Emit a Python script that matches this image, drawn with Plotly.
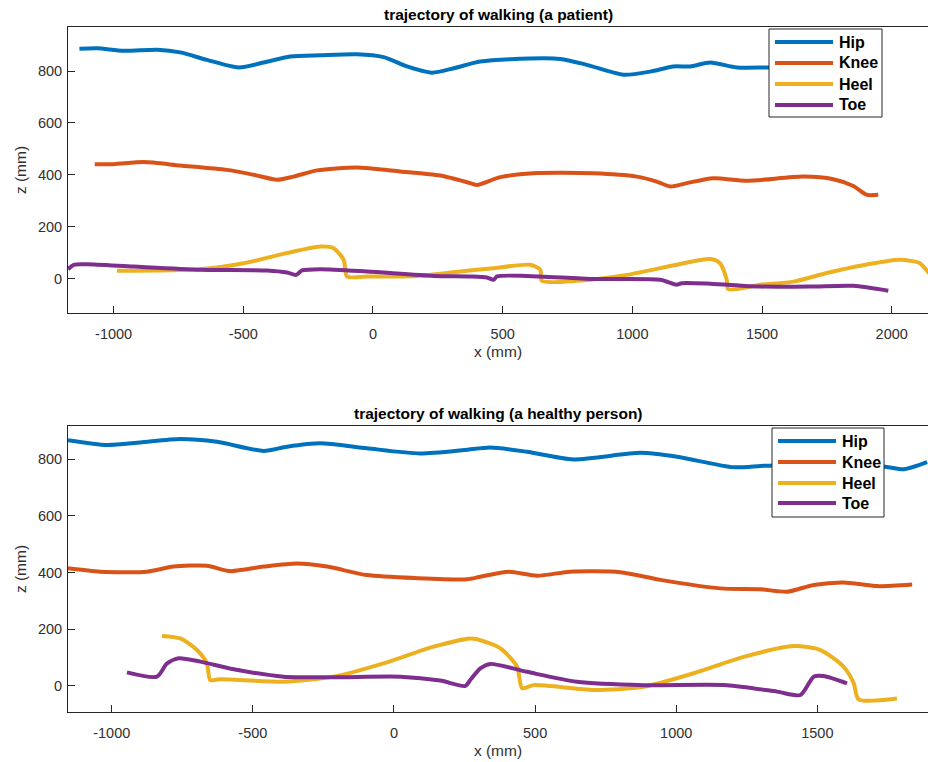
import plotly.graph_objects as go

# ---------------- data: patient (top) ----------------
p_hip_x = [-1132, -1064, -961, -832, -743, -640, -518, -422, -319, -203, -62, 41, 131, 227, 311, 413, 529, 722, 825, 966, 1069, 1158, 1223, 1300, 1403, 1525, 1700, 1850, 1950]
p_hip_z = [886, 888, 878, 882, 872, 843, 814, 833, 856, 861, 865, 854, 818, 794, 811, 837, 846, 847, 824, 786, 798, 818, 818, 833, 814, 814, 815, 812, 810]

p_knee_x = [-1073, -1000, -884, -743, -563, -460, -370, -306, -216, -62, 105, 259, 375, 401, 491, 619, 850, 1017, 1094, 1146, 1210, 1312, 1441, 1659, 1775, 1852, 1904, 1948]
p_knee_z = [441, 441, 449, 436, 419, 400, 381, 393, 417, 428, 413, 397, 368, 361, 391, 406, 406, 393, 374, 355, 368, 387, 377, 393, 383, 357, 323, 323]

p_heel_x = [-987, -666, -499, -345, -203, -152, -113, -100, -23, 170, 336, 465, 606, 645, 651, 786, 979, 1171, 1300, 1338, 1364, 1370, 1493, 1621, 1750, 1878, 2032, 2109, 2140, 2170]
p_heel_z = [30, 36, 59, 95, 123, 117, 72, 8, 8, 10, 27, 40, 53, 34, -9, -9, 14, 53, 75, 59, -5, -41, -24, -12, 21, 49, 72, 59, 25, -10]

p_toe_x = [-1176, -1154, -1102, -923, -666, -408, -331, -296, -274, -203, -23, 234, 375, 439, 465, 478, 593, 850, 1107, 1171, 1191, 1300, 1493, 1686, 1852, 1987]
p_toe_z = [36, 53, 55, 46, 34, 31, 23, 14, 31, 36, 27, 10, 8, 4, -5, 8, 10, -2, -5, -24, -18, -20, -31, -31, -28, -47]

# ---------------- data: healthy person (bottom) ----------------
h_hip_x = [-1155, -1017, -899, -757, -627, -462, -379, -261, -96, 93, 250, 341, 471, 636, 873, 1003, 1203, 1298, 1339, 1450, 1600, 1741, 1806, 1889]
h_hip_z = [868, 851, 860, 872, 862, 830, 845, 857, 839, 821, 833, 842, 827, 800, 823, 809, 772, 777, 778, 780, 776, 774, 765, 790]

h_knee_x = [-1155, -1041, -875, -781, -663, -580, -462, -344, -237, -96, 82, 259, 306, 406, 507, 625, 802, 944, 1156, 1298, 1393, 1487, 1593, 1712, 1836]
h_knee_z = [415, 403, 403, 421, 424, 405, 421, 432, 421, 391, 380, 376, 385, 403, 389, 403, 401, 374, 344, 341, 332, 356, 365, 352, 358]

h_heel_x = [-822, -757, -698, -663, -651, -616, -391, -214, -37, 140, 270, 294, 377, 436, 454, 495, 707, 884, 1062, 1239, 1416, 1511, 1593, 1629, 1646, 1782]
h_heel_z = [176, 167, 126, 79, 20, 23, 14, 32, 79, 138, 167, 164, 132, 67, -9, 2, -15, -4, 44, 102, 140, 126, 67, 8, -48, -45]

h_toe_x = [-946, -840, -804, -763, -686, -568, -391, -214, 22, 164, 253, 270, 306, 341, 471, 648, 884, 1180, 1357, 1440, 1487, 1522, 1605]
h_toe_z = [47, 32, 79, 97, 85, 58, 32, 30, 32, 18, -1, 20, 61, 77, 49, 14, 2, 2, -21, -33, 32, 34, 8]

names = ["Hip", "Knee", "Heel", "Toe"]
colors = ["#0072BD", "#D95319", "#EDB120", "#7E2F8E"]
x_ticks = [-1000, -500, 0, 500, 1000, 1500, 2000]
x_tick_labels = ["-1000", "-500", "0", "500", "1000", "1500", "2000"]
z_ticks = [0, 200, 400, 600, 800]
z_tick_labels = ["0", "200", "400", "600", "800"]

titles = ["trajectory of walking (a patient)", "trajectory of walking (a healthy person)"]

FONT = "Liberation Sans, Arial, Helvetica, sans-serif"
AX = "#262626"
TXT = "#303030"
W, H = 928, 762


def px_x(p):
    return p / W


def px_y(p):
    return 1 - p / H


fig = go.Figure()

top = [(p_hip_x, p_hip_z), (p_knee_x, p_knee_z), (p_heel_x, p_heel_z), (p_toe_x, p_toe_z)]
bot = [(h_hip_x, h_hip_z), (h_knee_x, h_knee_z), (h_heel_x, h_heel_z), (h_toe_x, h_toe_z)]

for (xs, zs), n, c in zip(top, names, colors):
    fig.add_trace(go.Scatter(x=xs, y=zs, name=n, mode="lines", showlegend=False,
                             line=dict(color=c, width=4, shape="spline", smoothing=0.7),
                             xaxis="x", yaxis="y"))
for (xs, zs), n, c in zip(bot, names, colors):
    fig.add_trace(go.Scatter(x=xs, y=zs, name=n, mode="lines", showlegend=False,
                             line=dict(color=c, width=4, shape="spline", smoothing=0.7),
                             xaxis="x2", yaxis="y2"))

axis_common = dict(showline=True, mirror=True, linecolor=AX, linewidth=1,
                   ticks="inside", ticklen=7, tickcolor=AX, tickwidth=1,
                   showgrid=False, zeroline=False,
                   tickfont=dict(family=FONT, size=14.5, color=TXT))
lab_font = dict(family=FONT, size=15.5, color=TXT)

# ---- legends drawn as boxed keys (one per panel) ----
shapes = []
annotations = []
legend_specs = [
    # box left, box right, box top, box bottom, line x0, line x1, text x, row ys
    (769, 882, 29, 117, 775, 833, 837, [42, 63, 84, 105]),
    (772, 884, 428, 517, 778, 836, 840, [441, 462, 483, 503]),
]
for bl, br, bt, bb, lx0, lx1, tx, rows in legend_specs:
    shapes.append(dict(type="rect", xref="paper", yref="paper", layer="above",
                       x0=px_x(bl), x1=px_x(br), y0=px_y(bb), y1=px_y(bt),
                       fillcolor="white", line=dict(color=AX, width=1)))
    for n, c, ry in zip(names, colors, rows):
        shapes.append(dict(type="line", xref="paper", yref="paper", layer="above",
                           x0=px_x(lx0), x1=px_x(lx1), y0=px_y(ry), y1=px_y(ry),
                           line=dict(color=c, width=4)))
        annotations.append(dict(text=n, x=px_x(tx), y=px_y(ry), xref="paper", yref="paper",
                                showarrow=False, xanchor="left", yanchor="middle",
                                font=dict(family=FONT, size=16, color="black", weight="bold")))

for t, ty in zip(titles, [15, 413]):
    annotations.append(dict(text=t, x=(px_x(68) + 1) / 2, y=px_y(ty), xref="paper", yref="paper",
                            showarrow=False, xanchor="center", yanchor="middle",
                            font=dict(family=FONT, size=15.5, color="black", weight="bold")))

fig.update_layout(
    width=W, height=H,
    margin=dict(l=0, r=0, t=0, b=0),
    paper_bgcolor="white", plot_bgcolor="white",
    showlegend=False,
    xaxis=dict(domain=[px_x(68), px_x(928)], range=[-1176, 2140],
               tickvals=x_ticks, ticktext=x_tick_labels,
               anchor="y", ticklabelstandoff=8,
               title=dict(text="x (mm)", font=lab_font, standoff=4),
               **axis_common),
    yaxis=dict(domain=[px_y(313), px_y(27)], range=[-133, 970],
               tickvals=z_ticks, ticktext=z_tick_labels,
               anchor="x", ticklabelstandoff=2,
               title=dict(text="z (mm)", font=lab_font, standoff=7),
               **axis_common),
    xaxis2=dict(domain=[px_x(68), px_x(928)], range=[-1155, 1892],
                tickvals=x_ticks, ticktext=x_tick_labels,
                anchor="y2", ticklabelstandoff=8,
                title=dict(text="x (mm)", font=lab_font, standoff=4),
                **axis_common),
    yaxis2=dict(domain=[px_y(712), px_y(426)], range=[-93, 918],
                tickvals=z_ticks, ticktext=z_tick_labels,
                anchor="x2", ticklabelstandoff=2,
                title=dict(text="z (mm)", font=lab_font, standoff=7),
                **axis_common),
    shapes=shapes,
    annotations=annotations,
)

fig.write_html("out.html")
